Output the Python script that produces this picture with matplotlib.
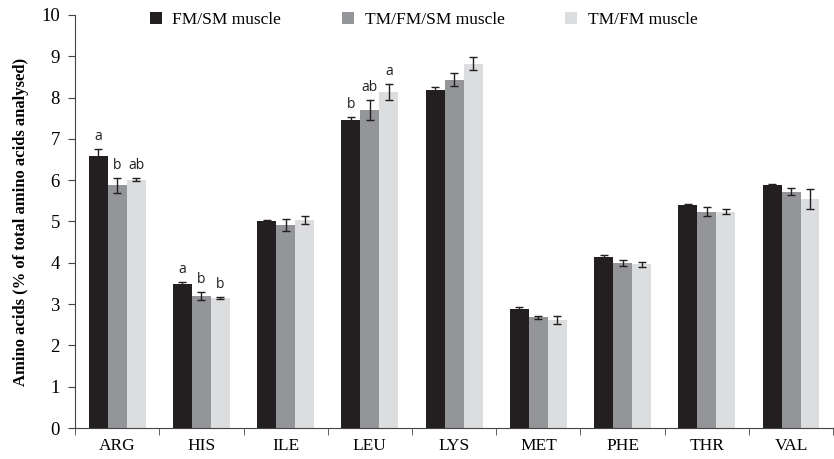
import numpy as np
import matplotlib
matplotlib.use('Agg')
import matplotlib.pyplot as plt

# 数据
amino = ['ARG', 'HIS', 'ILE', 'LEU', 'LYS', 'MET', 'PHE', 'THR', 'VAL']
groups = ['FM/SM muscle', 'TM/FM/SM muscle', 'TM/FM muscle']
fm_sm = [6.58, 3.48, 5.00, 7.45, 8.18, 2.87, 4.15, 5.40, 5.88]
tm_fm_sm = [5.88, 3.20, 4.92, 7.70, 8.43, 2.68, 4.00, 5.24, 5.72]
tm_fm = [6.01, 3.15, 5.03, 8.13, 8.82, 2.61, 3.96, 5.24, 5.54]
err_fm_sm = [0.17, 0.05, 0.03, 0.08, 0.07, 0.07, 0.04, 0.02, 0.02]
err_tm_fm_sm = [0.18, 0.09, 0.15, 0.24, 0.16, 0.04, 0.07, 0.10, 0.09]
err_tm_fm = [0.04, 0.02, 0.10, 0.20, 0.15, 0.09, 0.06, 0.05, 0.24]
# 显著性字母
letters = {0: ['a', 'b', 'ab'], 1: ['a', 'b', 'b'], 3: ['b', 'ab', 'a']}

colors = ['#231f20', '#939598', '#dcdddf']
values = [fm_sm, tm_fm_sm, tm_fm]
errors = [err_fm_sm, err_tm_fm_sm, err_tm_fm]

plt.rcParams['font.family'] = ['Liberation Serif', 'DejaVu Serif']

fig = plt.figure(figsize=(8.34, 4.59), dpi=100)
ax = fig.add_axes([0.09, 0.0675, 0.909, 0.9])

x = np.arange(len(amino))
w = 0.225
for i in range(3):
    pos = x + (i - 1) * w
    ax.bar(pos, values[i], width=w, color=colors[i], label=groups[i], zorder=2)
    ax.errorbar(pos, values[i], yerr=errors[i], fmt='none', ecolor='#231f20',
                elinewidth=1, capsize=3, capthick=1, zorder=3)

for k, labs in letters.items():
    for i in range(3):
        top = values[i][k] + errors[i][k]
        ax.text(x[k] + (i - 1) * w, top + 0.12, labs[i], ha='center', va='bottom',
                fontsize=10, family=['Open Sans', 'DejaVu Sans'], color='#231f20')

ax.set_xlim(-0.5, len(amino) - 0.5)
ax.set_ylim(0, 10)
ax.set_yticks(range(0, 11))
ax.set_xticks(x)
ax.set_xticklabels(amino, fontsize=12.5)
ax.set_xticks(np.arange(-0.5, len(amino), 1), minor=True)
ax.tick_params(axis='x', which='major', length=0, pad=7)
ax.tick_params(axis='x', which='minor', length=5, direction='out', color='#444444')
ax.tick_params(axis='y', length=5, direction='out', labelsize=13.5, color='#444444', pad=6)
ax.spines['top'].set_visible(False)
ax.spines['right'].set_visible(False)
ax.spines['left'].set_color('#444444')
ax.spines['bottom'].set_color('#444444')
ax.set_ylabel('Amino acids (% of total amino acids analysed)', fontsize=12,
              fontweight='bold', labelpad=9)

ax.legend(loc='upper center', bbox_to_anchor=(0.46, 1.045), ncol=3, frameon=False,
          fontsize=12.5, handlelength=0.7, handleheight=0.7, handletextpad=0.6,
          columnspacing=3.5)

plt.savefig('out.png', dpi=100)
